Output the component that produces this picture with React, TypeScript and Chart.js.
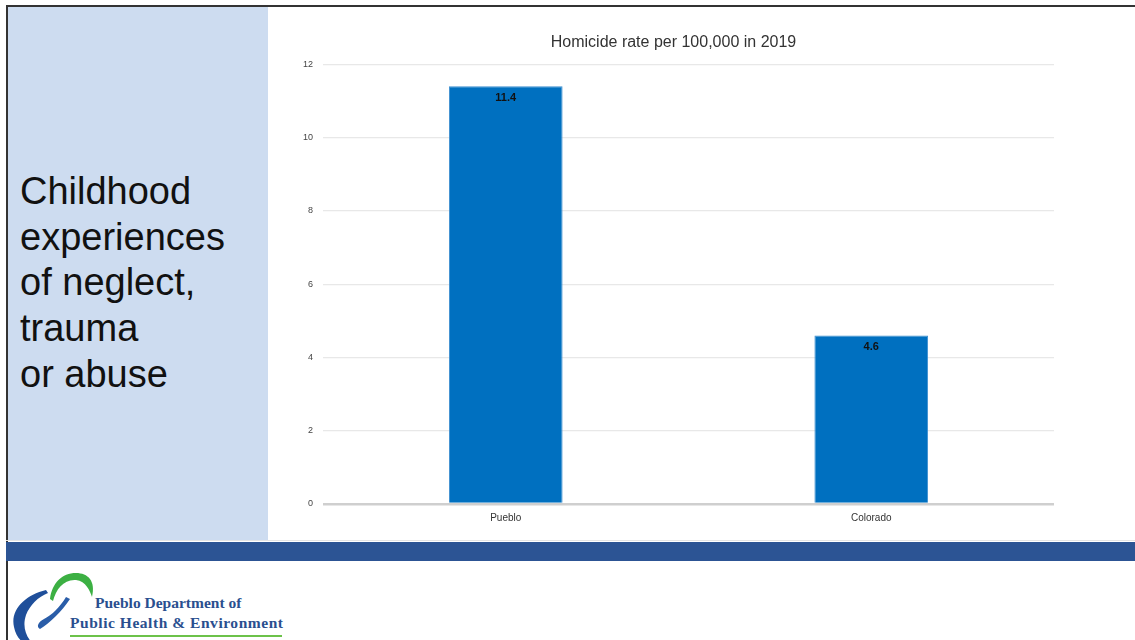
import React, { useEffect, useRef } from "react";
import { Chart, registerables } from "chart.js";

Chart.register(...registerables);

const categories = ["Pueblo", "Colorado"];
const values = [11.4, 4.6];
const valueLabels = ["11.4", "4.6"];
const yTicks = [0, 2, 4, 6, 8, 10, 12];
const chartTitle = "Homicide rate per 100,000 in 2019";
const sideLines = ["Childhood", "experiences", "of neglect,", "trauma", "or abuse"];

const FONT = "'Liberation Sans', Arial, sans-serif";

const barLabelPlugin = {
  id: "barLabels",
  afterDatasetsDraw(chart: any) {
    const ctx = chart.ctx;
    const meta = chart.getDatasetMeta(0);
    ctx.save();
    ctx.font = `bold 11px ${FONT}`;
    ctx.fillStyle = "#111";
    ctx.textAlign = "center";
    ctx.textBaseline = "middle";
    meta.data.forEach((el: any, i: number) => {
      ctx.fillText(valueLabels[i], el.x, el.y + 12);
    });
    ctx.restore();
  },
};

function BarChart() {
  const ref = useRef<HTMLCanvasElement | null>(null);
  useEffect(() => {
    if (!ref.current) return;
    const chart = new Chart(ref.current, {
      type: "bar",
      data: {
        labels: categories,
        datasets: [
          {
            data: values,
            backgroundColor: "#0070C0",
            borderColor: "#3d8fd0",
            borderWidth: 1,
            barPercentage: 0.311,
            categoryPercentage: 1,
          },
        ],
      },
      plugins: [barLabelPlugin],
      options: {
        responsive: false,
        animation: false,
        maintainAspectRatio: false,
        layout: { padding: { left: 25, right: 81, top: 0, bottom: 8 } },
        plugins: {
          legend: { display: false },
          tooltip: { enabled: false },
          title: {
            display: true,
            text: chartTitle,
            color: "#333",
            font: { family: FONT, size: 16, weight: "normal" },
            padding: { top: 26, bottom: 12 },
          },
        },
        scales: {
          x: {
            grid: { display: false, drawTicks: false, tickLength: 0 },
            border: { display: false },
            ticks: {
              color: "#333",
              font: { family: FONT, size: 10 },
              padding: 8,
            },
          },
          y: {
            min: 0,
            max: 12,
            afterBuildTicks: (axis: any) => {
              axis.ticks = yTicks.map((v) => ({ value: v }));
            },
            border: { display: false },
            grid: {
              drawTicks: false,
              color: (c: any) => (c.tick && c.tick.value === 0 ? "#cfcfcf" : "#e8e8e8"),
              lineWidth: (c: any) => (c.tick && c.tick.value === 0 ? 2.5 : 1.2),
            },
            ticks: {
              color: "#444",
              font: { family: FONT, size: 9 },
              padding: 10,
            },
          },
        },
      },
    });
    return () => chart.destroy();
  }, []);
  return <canvas ref={ref} width={867} height={533} style={{ display: "block", width: 867, height: 533 }} />;
}

function Logo() {
  return (
    <svg width={300} height={80} style={{ position: "absolute", left: 0, top: 565 }} viewBox="0 0 300 80">
      <path d="M46 25 C 25 30, 10 45, 14 62 C 16 72, 22 78, 28 80 L 34 80 C 26 72, 22 62, 26 50 C 30 40, 38 32, 48 28 Z" fill="#1f4f9a" />
      <path d="M66 32 C 60 42, 52 50, 44 54 C 38 57, 36 62, 40 64 C 50 58, 62 46, 70 34 Z" fill="#2a5da8" />
      <path d="M50 34 C 52 18, 62 8, 76 8 C 88 8, 96 16, 92 32 C 90 26, 86 16, 76 15 C 64 14, 56 24, 53 36 Z" fill="#3cb043" />
      <text x={95} y={43} fontFamily="'Liberation Serif', 'DejaVu Serif', serif" fontWeight="bold" fontSize={15.5} fill="#2a4f8f">Pueblo Department of</text>
      <text x={70} y={63} fontFamily="'Liberation Serif', 'DejaVu Serif', serif" fontWeight="bold" fontSize={15.5} fill="#2a4f8f" textLength={213}>Public Health &amp; Environment</text>
      <rect x={70} y={70} width={212} height={2} fill="#6cc24a" />
    </svg>
  );
}

export default function App() {
  return (
    <div style={{ position: "fixed", left: 0, top: 0, width: 1135, height: 640, background: "#fff", overflow: "hidden" }}>
      <div style={{ position: "absolute", left: 6, top: 5, width: 1140, height: 700, borderTop: "2px solid #333", borderLeft: "2px solid #333", boxSizing: "border-box" }} />
      <div style={{ position: "absolute", left: 8, top: 7, width: 260, height: 533, background: "#CDDCF0" }} />
      <div style={{ position: "absolute", left: 20, top: 169, fontFamily: FONT, fontSize: 38, lineHeight: "45.7px", color: "#111" }}>
        {sideLines.map((s, i) => (
          <div key={i}>{s}</div>
        ))}
      </div>
      <div style={{ position: "absolute", left: 268, top: 7 }}>
        <BarChart />
      </div>
      <div style={{ position: "absolute", left: 6, top: 540, width: 1129, height: 1, background: "#e4e4e4" }} />
      <div style={{ position: "absolute", left: 6, top: 542, width: 1129, height: 19, background: "#2C5494" }} />
      <Logo />
    </div>
  );
}
